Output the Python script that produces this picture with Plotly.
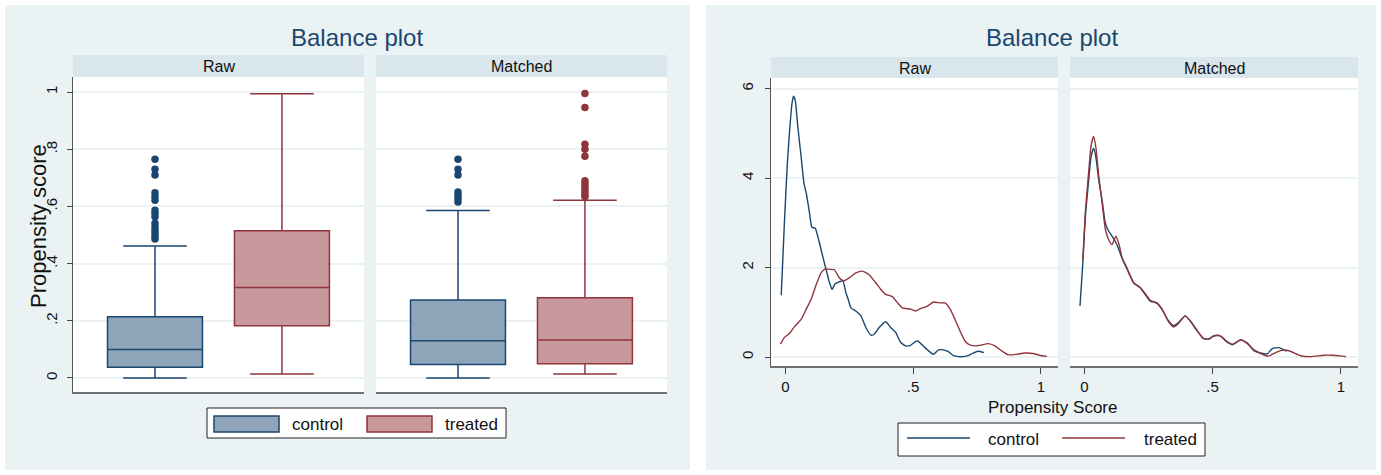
import plotly.graph_objects as go

# ---------------- data ----------------
groups = ["control", "treated"]
group_pos = [0, 1]

# box statistics: [lowerfence, q1, median, q3, upperfence]
raw_control_stats = [0.000, 0.038, 0.100, 0.214, 0.462]
raw_treated_stats = [0.014, 0.183, 0.317, 0.515, 0.994]
matched_control_stats = [0.000, 0.047, 0.130, 0.273, 0.586]
matched_treated_stats = [0.014, 0.050, 0.133, 0.281, 0.622]

raw_control_outliers = [0.486, 0.494, 0.506, 0.517, 0.529, 0.541, 0.564, 0.576,
                        0.587, 0.622, 0.634, 0.648, 0.710, 0.730, 0.765]
raw_treated_outliers = []
matched_control_outliers = [0.616, 0.628, 0.640, 0.651, 0.710, 0.730, 0.765]
matched_treated_outliers = [0.634, 0.640, 0.650, 0.660, 0.670, 0.680, 0.690,
                            0.776, 0.800, 0.818, 0.946, 0.995]

# kernel density curves
raw_control_x = [-0.016, -0.003, 0.008, 0.017, 0.026, 0.032, 0.039, 0.049, 0.062, 0.073,
                 0.082, 0.095, 0.104, 0.117, 0.127, 0.140, 0.153, 0.166, 0.173, 0.183,
                 0.195, 0.211, 0.225, 0.237, 0.246, 0.257, 0.276, 0.296, 0.315, 0.335,
                 0.348, 0.367, 0.393, 0.412, 0.432, 0.451, 0.471, 0.490, 0.505, 0.518,
                 0.541, 0.560, 0.580, 0.599, 0.619, 0.638, 0.658, 0.677, 0.696, 0.716,
                 0.735, 0.755, 0.777]
raw_control_y = [1.38, 3.07, 4.33, 5.07, 5.66, 5.83, 5.73, 5.14, 4.47, 3.88,
                 3.66, 3.21, 2.90, 2.88, 2.70, 2.40, 2.10, 1.81, 1.66, 1.51,
                 1.64, 1.68, 1.70, 1.44, 1.29, 1.10, 1.03, 0.92, 0.66, 0.49,
                 0.51, 0.66, 0.79, 0.66, 0.55, 0.33, 0.25, 0.26, 0.33, 0.36,
                 0.24, 0.14, 0.06, 0.16, 0.16, 0.12, 0.03, 0.01, 0.01, 0.03,
                 0.09, 0.13, 0.10]

raw_treated_x = [-0.019, -0.003, 0.017, 0.036, 0.062, 0.082, 0.101, 0.121, 0.140, 0.156,
                 0.173, 0.192, 0.211, 0.228, 0.250, 0.276, 0.302, 0.328, 0.354, 0.374,
                 0.393, 0.419, 0.439, 0.458, 0.490, 0.510, 0.528, 0.554, 0.580, 0.606,
                 0.625, 0.645, 0.664, 0.684, 0.703, 0.722, 0.748, 0.768, 0.794, 0.820,
                 0.846, 0.872, 0.904, 0.937, 0.969, 0.995, 1.023]
raw_treated_y = [0.29, 0.44, 0.53, 0.68, 0.84, 1.07, 1.29, 1.62, 1.88, 1.97,
                 1.96, 1.95, 1.77, 1.70, 1.77, 1.88, 1.92, 1.84, 1.66, 1.51,
                 1.40, 1.35, 1.21, 1.10, 1.07, 1.03, 1.08, 1.13, 1.23, 1.21,
                 1.21, 1.07, 0.84, 0.58, 0.36, 0.27, 0.25, 0.27, 0.30, 0.25,
                 0.14, 0.05, 0.06, 0.09, 0.08, 0.04, 0.015]

matched_control_x = [-0.017, -0.006, 0.004, 0.017, 0.026, 0.036, 0.045, 0.056, 0.069, 0.082,
                     0.095, 0.108, 0.127, 0.147, 0.166, 0.192, 0.218, 0.237, 0.257, 0.283,
                     0.302, 0.328, 0.348, 0.367, 0.393, 0.412, 0.439, 0.464, 0.484, 0.503,
                     0.520, 0.535, 0.551, 0.577, 0.610, 0.636, 0.661, 0.687, 0.713, 0.733,
                     0.759, 0.778, 0.790]
matched_control_y = [1.14, 2.10, 3.14, 3.96, 4.47, 4.66, 4.47, 3.96, 3.51, 2.99,
                     2.81, 2.70, 2.51, 2.21, 1.99, 1.66, 1.55, 1.40, 1.25, 1.21,
                     1.07, 0.81, 0.70, 0.77, 0.92, 0.81, 0.59, 0.42, 0.40, 0.47,
                     0.49, 0.46, 0.36, 0.28, 0.39, 0.31, 0.14, 0.09, 0.07, 0.19,
                     0.21, 0.16, 0.13]

matched_treated_x = [-0.006, 0.004, 0.017, 0.026, 0.036, 0.045, 0.056, 0.069, 0.082, 0.095,
                     0.108, 0.123, 0.135, 0.147, 0.166, 0.192, 0.218, 0.237, 0.257, 0.283,
                     0.302, 0.328, 0.348, 0.367, 0.393, 0.412, 0.439, 0.464, 0.484, 0.503,
                     0.520, 0.535, 0.551, 0.577, 0.610, 0.636, 0.661, 0.687, 0.703, 0.719,
                     0.746, 0.778, 0.798, 0.843, 0.882, 0.934, 0.966, 1.005, 1.020]
matched_treated_y = [2.15, 3.25, 4.15, 4.72, 4.93, 4.68, 4.05, 3.45, 2.85, 2.62,
                     2.51, 2.70, 2.52, 2.22, 1.97, 1.66, 1.55, 1.42, 1.27, 1.20,
                     1.08, 0.79, 0.67, 0.75, 0.92, 0.82, 0.60, 0.41, 0.40, 0.46,
                     0.48, 0.45, 0.37, 0.28, 0.38, 0.30, 0.16, 0.08, 0.04, 0.02,
                     0.10, 0.16, 0.14, 0.03, 0.01, 0.04, 0.04, 0.02, 0.01]

box_yticks = [0, 0.2, 0.4, 0.6, 0.8, 1]
box_yticklabels = ["0", ".2", ".4", ".6", ".8", "1"]
dens_yticks = [0, 2, 4, 6]
dens_yticklabels = ["0", "2", "4", "6"]
dens_xticks = [0, 0.5, 1]
dens_xticklabels = ["0", ".5", "1"]

facet_labels = ["Raw", "Matched"]
chart_title = "Balance plot"
box_ytitle = "Propensity score"
dens_xtitle = "Propensity Score"

# ---------------- style ----------------
W, H = 1381, 475
NAVY = "#1A476F"
MAROON = "#90353B"
NAVY_FILL = "#8DA4B9"
MAROON_FILL = "#C8999C"
PANEL_BG = "#EAF2F3"
STRIP_BG = "#D9E6EB"
GRID = "#EAF2F3"
FONT = "Arial, Liberation Sans, sans-serif"


def px(x):
    return x / W


def py(y):
    return 1 - y / H


fig = go.Figure()

# ----- box plots -----
box_sets = [
    ("x", "y", [raw_control_stats, raw_treated_stats], [raw_control_outliers, raw_treated_outliers]),
    ("x2", "y2", [matched_control_stats, matched_treated_stats],
     [matched_control_outliers, matched_treated_outliers]),
]
colors = [NAVY, MAROON]
fills = [NAVY_FILL, MAROON_FILL]
for xa, ya, stats, outs in box_sets:
    for i, g in enumerate(groups):
        s = stats[i]
        fig.add_trace(go.Box(
            x=[group_pos[i]], lowerfence=[s[0]], q1=[s[1]], median=[s[2]], q3=[s[3]],
            upperfence=[s[4]], width=0.748, whiskerwidth=0.67, boxpoints=False,
            fillcolor=fills[i], line=dict(color=colors[i], width=1.5),
            name=g, showlegend=False, xaxis=xa, yaxis=ya, hoverinfo="skip"))
        if outs[i]:
            fig.add_trace(go.Scatter(
                x=[group_pos[i]] * len(outs[i]), y=outs[i], mode="markers",
                marker=dict(color=colors[i], size=7.5), showlegend=False,
                xaxis=xa, yaxis=ya, hoverinfo="skip"))

# ----- density curves -----
dens_sets = [
    ("x3", "y3", [(raw_control_x, raw_control_y), (raw_treated_x, raw_treated_y)]),
    ("x4", "y4", [(matched_control_x, matched_control_y), (matched_treated_x, matched_treated_y)]),
]
for xa, ya, curves in dens_sets:
    for i, (cx, cy) in enumerate(curves):
        fig.add_trace(go.Scatter(
            x=cx, y=cy, mode="lines", line=dict(color=colors[i], width=1.4, shape="spline", smoothing=0.5),
            name=groups[i], showlegend=False, xaxis=xa, yaxis=ya, hoverinfo="skip"))

# ----- axes -----
box_xrange = [-0.646, 1.6465]
box_yrange = [-0.049, 1.053]
dens_xrange = [-0.056, 1.067]
dens_yrange = [-0.2, 6.235]

TICKFONT = dict(size=15, color="#111", family=FONT)
common = dict(automargin=False, zeroline=False)
fig.update_layout(
    xaxis=dict(domain=[px(73), px(364)], range=box_xrange, showticklabels=False, ticks="",
               showline=True, linecolor="#707070", linewidth=2, showgrid=False, anchor="y", **common),
    yaxis=dict(domain=[py(392), py(77)], range=box_yrange, tickvals=box_yticks, ticktext=box_yticklabels,
               tickangle=-90, ticks="outside", ticklen=5, tickcolor="#444", showline=True,
               linecolor="#555", linewidth=1, gridcolor=GRID, gridwidth=1.5, ticklabelstandoff=4,
               tickfont=TICKFONT, anchor="x", **common),
    xaxis2=dict(domain=[px(376), px(667)], range=box_xrange, showticklabels=False, ticks="",
                showline=True, linecolor="#707070", linewidth=2, showgrid=False, anchor="y2", **common),
    yaxis2=dict(domain=[py(392), py(77)], range=box_yrange, tickvals=box_yticks, showticklabels=False,
                ticks="", showline=False, gridcolor=GRID, gridwidth=1.5, anchor="x2", **common),
    xaxis3=dict(domain=[px(771), px(1058)], range=dens_xrange, tickvals=dens_xticks, ticktext=dens_xticklabels,
                ticks="outside", ticklen=6, tickcolor="#444", showline=True, linecolor="#707070",
                linewidth=2, showgrid=False, tickfont=TICKFONT, anchor="y3", **common),
    yaxis3=dict(domain=[py(366), py(78)], range=dens_yrange, tickvals=dens_yticks, ticktext=dens_yticklabels,
                tickangle=-90, ticks="outside", ticklen=5, tickcolor="#444", showline=True,
                linecolor="#555", linewidth=1, gridcolor=GRID, gridwidth=1.5, ticklabelstandoff=6,
                tickfont=TICKFONT, anchor="x3", **common),
    xaxis4=dict(domain=[px(1070), px(1358)], range=dens_xrange, tickvals=dens_xticks, ticktext=dens_xticklabels,
                ticks="outside", ticklen=6, tickcolor="#444", showline=True, linecolor="#707070",
                linewidth=2, showgrid=False, tickfont=TICKFONT, anchor="y4", **common),
    yaxis4=dict(domain=[py(366), py(78)], range=dens_yrange, tickvals=dens_yticks, showticklabels=False,
                ticks="", showline=False, gridcolor=GRID, gridwidth=1.5, anchor="x4", **common),
)

# ----- background panels, plot areas, strips -----
shapes = []
for x0, x1 in [(5, 690), (706, 1376)]:
    shapes.append(dict(type="rect", xref="paper", yref="paper", x0=px(x0), x1=px(x1), y0=py(470), y1=py(5),
                       fillcolor=PANEL_BG, line=dict(width=0), layer="below"))
for ax in ["x", "x2", "x3", "x4"]:
    ya = ax.replace("x", "y")
    shapes.append(dict(type="rect", xref=f"{ax} domain", yref=f"{ya} domain", x0=0, x1=1, y0=0, y1=1,
                       fillcolor="white", line=dict(width=0), layer="below"))
strip_specs = [(73, 364, 55, 77), (376, 667, 55, 77), (771, 1058, 57, 78), (1070, 1358, 57, 78)]
for x0, x1, y0, y1 in strip_specs:
    shapes.append(dict(type="rect", xref="paper", yref="paper", x0=px(x0), x1=px(x1), y0=py(y1), y1=py(y0),
                       fillcolor=STRIP_BG, line=dict(width=0), layer="below"))

annotations = []
for (x0, x1, y0, y1), lab in zip(strip_specs, facet_labels * 2):
    annotations.append(dict(text=lab, x=px((x0 + x1) / 2), y=py((y0 + y1) / 2 + 0.5), xref="paper", yref="paper",
                            showarrow=False, xanchor="center", yanchor="middle",
                            font=dict(size=16, color="#111", family=FONT)))
for cx in [357, 1052]:
    annotations.append(dict(text=chart_title, x=px(cx), y=py(38), xref="paper", yref="paper",
                            showarrow=False, xanchor="center", yanchor="middle",
                            font=dict(size=24, color=NAVY, family=FONT)))
annotations.append(dict(text=box_ytitle, x=px(38), y=py(226), xref="paper", yref="paper", textangle=-90,
                        showarrow=False, xanchor="center", yanchor="middle",
                        font=dict(size=22, color="#111", family=FONT)))
annotations.append(dict(text=dens_xtitle, x=px(1052), y=py(407), xref="paper", yref="paper",
                        showarrow=False, xanchor="center", yanchor="middle",
                        font=dict(size=17, color="#111", family=FONT)))

# ----- legends (drawn) -----
# left legend: box swatches
shapes.append(dict(type="rect", xref="paper", yref="paper", x0=px(207), x1=px(506), y0=py(438), y1=py(408),
                   fillcolor="white", line=dict(color="#222", width=1)))
for i, (sx, tx) in enumerate([(214, 290), (367, 443)]):
    shapes.append(dict(type="rect", xref="paper", yref="paper", x0=px(sx), x1=px(sx + 65), y0=py(432),
                       y1=py(416), fillcolor=fills[i], line=dict(color=colors[i], width=1.5)))
    annotations.append(dict(text=groups[i], x=px(tx), y=py(424), xref="paper", yref="paper", showarrow=False,
                            xanchor="left", yanchor="middle", font=dict(size=17, color="#111", family=FONT)))
# right legend: line samples
shapes.append(dict(type="rect", xref="paper", yref="paper", x0=px(898), x1=px(1205), y0=py(456), y1=py(423),
                   fillcolor="white", line=dict(color="#222", width=1)))
for i, (sx, tx) in enumerate([(907, 986), (1062, 1142)]):
    shapes.append(dict(type="line", xref="paper", yref="paper", x0=px(sx), x1=px(sx + 63), y0=py(438),
                       y1=py(438), line=dict(color=colors[i], width=1.5)))
    annotations.append(dict(text=groups[i], x=px(tx), y=py(439), xref="paper", yref="paper", showarrow=False,
                            xanchor="left", yanchor="middle", font=dict(size=17, color="#111", family=FONT)))

fig.update_layout(
    width=W, height=H, margin=dict(l=0, r=0, t=0, b=0, pad=0),
    paper_bgcolor="white", plot_bgcolor="white",
    shapes=shapes, annotations=annotations, showlegend=False,
    font=dict(family=FONT),
)

fig.write_html("out.html", config={"displayModeBar": False},
               post_script="document.body.style.margin='0px';document.body.style.overflow='hidden';")
